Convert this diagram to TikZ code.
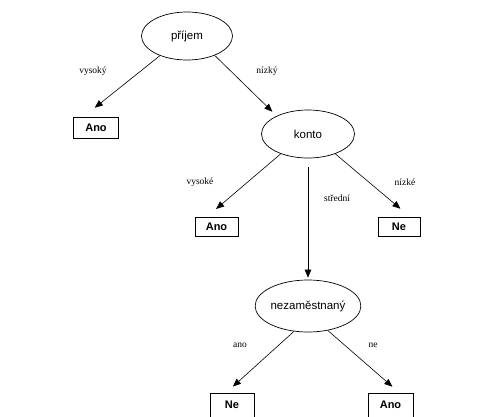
\documentclass[tikz,border=0pt]{standalone}
\usepackage{fontspec}
\setmainfont{Liberation Sans}
\newfontfamily\lblfont{Liberation Serif}
\usetikzlibrary{shapes.geometric,arrows.meta}
\begin{document}
\begin{tikzpicture}[x=1pt,y=-1pt,
  tnode/.style={draw,ellipse,line width=0.7pt,inner sep=0pt,font=\fontsize{11.5}{13}\selectfont},
  leaf/.style={draw,rectangle,line width=0.8pt,minimum width=45pt,minimum height=21pt,inner sep=0pt,font=\fontsize{11}{13}\selectfont\bfseries},
  edge/.style={line width=0.6pt,-{Triangle[length=8pt,width=6.5pt]}},
  elabel/.style={font=\lblfont\fontsize{9.5}{11}\selectfont}]
\useasboundingbox (0,0) rectangle (477,416);
\clip (0,0) rectangle (477,416);
\node[tnode,minimum width=91pt,minimum height=48pt] (p) at (187,36) {příjem};
\node[leaf] (a1) at (96,128) {Ano};
\node[tnode,minimum width=93pt,minimum height=48pt] (k) at (308,134) {konto};
\node[leaf,minimum width=43pt,minimum height=19pt] (a2) at (216.5,227) {Ano};
\node[leaf,minimum width=42pt,minimum height=19pt] (n1) at (399,227) {Ne};
\node[tnode,minimum width=105pt,minimum height=52pt] (z) at (308,306) {nezaměstnaný};
\node[leaf,minimum width=44pt,minimum height=24pt] (n2) at (232,405) {Ne};
\node[leaf,minimum width=45pt,minimum height=24pt] (a3) at (390.5,405) {Ano};
\draw[edge,shorten >=15pt] (p.216) -- (a1.140);
\draw[edge,shorten >=6pt] (p.325) -- (k.150);
\draw[edge,shorten >=12.5pt] (k.216) -- (a2.135);
\draw[edge,shorten >=13pt] (k.324) -- (n1.41);
\draw[edge,shorten <=9pt,shorten >=2pt] (k.south) -- (z.north);
\draw[edge,shorten >=9pt] (z.241) -- (n2.115);
\draw[edge,shorten >=9pt] (z.309) -- (a3.55);
\node[elabel] (l1) at (93,71) {vysoký};
\node[elabel] (l2) at (267,71) {nízký};
\node[elabel] (l3) at (200,182) {vysoké};
\node[elabel] (l4) at (337,198) {střední};
\node[elabel] (l5) at (405,182) {nízké};
\node[elabel] (l6) at (240,345) {ano};
\node[elabel] (l7) at (373,345) {ne};
\end{tikzpicture}
\end{document}
